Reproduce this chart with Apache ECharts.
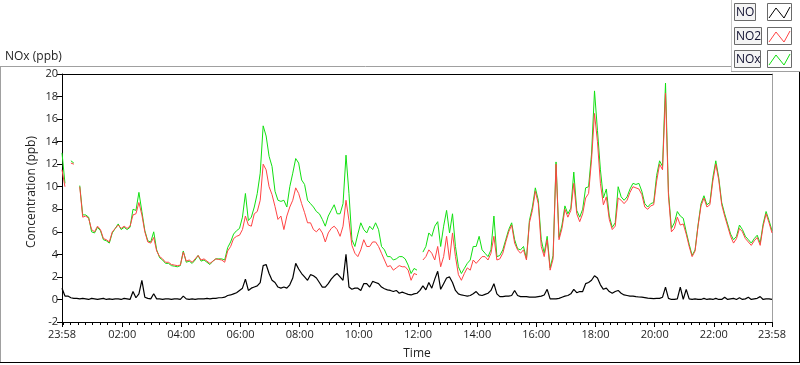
<!DOCTYPE html>
<html><head><meta charset="utf-8">
<script src="https://cdn.jsdelivr.net/npm/echarts@6/dist/echarts.min.js"></script>
<style>html,body{margin:0;padding:0;background:#fff}#c{width:800px;height:365px}</style>
</head><body><div id="c"></div>
<script>
// time axis in minutes relative to midnight; samples every 6 minutes from 23:58
const START_MIN = -2;
const STEP_MIN = 6;
const seriesNames = ['NO', 'NO2', 'NOx'];
const xTickMinutes = [-2, 120, 240, 360, 480, 600, 720, 840, 960, 1080, 1200, 1320, 1438];
const xTickLabels = ['23:58', '02:00', '04:00', '06:00', '08:00', '10:00', '12:00', '14:00', '16:00', '18:00', '20:00', '22:00', '23:58'];
const minorTickMinutes = [];
for (let m = 0; m < 1438; m += 15) minorTickMinutes.push(m);

const NO = [
 1.0,0.3,0.3,0.15,0.1,0.1,0.05,0.1,0.05,0.0,
 0.1,0.05,0.0,0.05,0.1,0.0,0.05,0.0,0.05,0.05,
 0.0,0.1,0.05,0.0,0.7,0.15,0.5,1.7,0.2,0.1,
 0.05,0.5,0.05,0.05,0.0,0.05,0.05,0.0,0.05,0.05,
 0.0,0.3,0.05,0.0,0.05,0.0,0.05,0.05,0.05,0.1,
 0.05,0.1,0.1,0.15,0.15,0.2,0.35,0.4,0.5,0.6,
 0.8,1.0,1.8,0.8,1.0,1.1,1.2,1.5,3.0,3.1,
 2.3,1.7,1.5,1.1,1.0,1.1,1.0,1.3,1.9,3.2,
 2.7,2.3,2.0,1.7,2.2,2.1,1.9,1.5,1.1,1.1,
 1.4,1.8,2.1,2.3,2.0,1.7,4.0,1.1,0.9,1.0,
 1.0,0.8,1.4,1.4,1.1,1.6,1.5,1.4,1.1,0.95,
 0.85,0.8,0.7,0.8,0.55,0.65,0.55,0.45,0.4,0.5,
 0.55,0.8,1.2,0.85,1.5,1.0,1.8,2.5,0.9,1.4,
 1.9,2.0,1.5,0.8,0.5,0.4,0.35,0.3,0.35,0.5,
 0.7,0.4,0.35,0.45,0.55,0.8,1.4,0.5,0.25,0.25,
 0.3,0.3,0.35,0.8,0.35,0.25,0.25,0.25,0.2,0.2,
 0.2,0.25,0.3,0.4,0.9,0.05,0.05,0.05,0.1,0.2,
 0.3,0.35,0.5,0.9,0.6,0.7,0.7,1.4,1.5,1.7,
 2.1,1.9,1.3,0.9,1.0,0.7,0.55,0.7,0.8,0.55,
 0.4,0.35,0.3,0.3,0.25,0.22,0.2,0.17,0.12,0.1,
 0.08,0.1,0.1,0.2,1.1,0.1,0.0,0.0,0.05,1.1,
 0.0,0.9,0.05,0.0,0.05,0.0,0.0,0.1,0.0,0.05,
 0.0,0.1,0.0,0.0,0.2,0.0,0.05,0.1,0.0,0.15,
 0.0,0.05,0.2,0.0,0.05,0.1,0.25,0.0,0.05,0.05,
 0.0
];

const NO2 = [
 11.5,10.0,null,12.1,12.0,null,10.0,7.3,7.4,7.2,
 6.2,6.0,6.5,6.2,5.4,5.3,5.1,6.0,6.3,6.6,
 6.3,6.5,6.3,6.5,7.5,7.6,8.6,7.5,6.0,5.1,
 5.0,5.5,4.3,3.8,3.6,3.3,3.3,3.1,3.05,3.0,
 3.05,4.2,3.4,3.5,3.3,3.6,3.9,3.5,3.6,3.4,
 3.2,3.4,3.6,3.55,3.5,3.3,4.3,4.7,5.4,5.6,
 5.7,6.2,7.4,6.6,6.5,7.6,7.8,8.8,12.0,11.5,
 10.0,9.3,8.25,7.1,7.4,6.2,7.4,8.2,8.8,9.9,
 9.4,8.5,7.7,6.8,6.8,6.2,6.0,6.3,5.9,5.1,
 5.9,6.3,6.5,6.2,5.6,6.5,8.8,7.0,4.8,4.1,
 3.8,4.4,5.3,4.7,4.7,5.1,5.1,4.7,4.1,3.5,
 2.9,3.0,2.6,2.8,3.0,2.9,2.9,2.6,1.7,2.3,
 2.2,null,3.5,3.8,4.4,4.1,3.5,4.7,2.9,3.8,
 5.6,3.5,5.9,3.8,2.2,1.7,2.3,2.8,2.6,3.5,
 3.2,3.5,3.8,3.8,3.5,4.1,5.6,3.5,3.6,4.1,
 5.1,6.0,6.6,5.0,4.4,4.1,4.4,3.5,6.8,7.9,
 9.6,8.5,4.7,3.8,5.3,2.6,3.6,12.0,5.3,6.3,
 8.0,7.3,7.9,10.3,7.6,6.9,7.6,9.0,9.4,12.4,
 16.5,14.0,10.3,8.4,9.1,7.1,6.2,6.5,9.0,8.8,
 8.5,8.8,9.5,10.0,9.9,9.8,9.3,8.2,8.0,8.3,
 8.4,10.5,12.0,11.5,18.3,9.2,6.0,6.3,7.3,6.6,
 6.7,5.8,4.7,3.8,4.3,6.5,8.3,9.0,8.2,8.4,
 10.5,12.0,10.6,8.4,7.4,6.5,5.6,5.0,5.4,6.3,
 6.0,5.4,5.1,4.8,5.2,5.5,4.8,6.5,7.6,6.8,
 5.9
];

const NOx = [
 13.0,10.3,null,12.3,12.1,null,10.1,7.5,7.5,7.3,
 6.0,5.9,6.4,6.1,5.3,5.2,5.0,5.9,6.3,6.7,
 6.2,6.4,6.2,6.4,8.0,7.9,9.5,7.8,6.1,5.2,
 5.1,6.0,4.4,3.7,3.5,3.2,3.2,3.0,2.95,2.9,
 3.0,4.3,3.3,3.4,3.2,3.5,3.9,3.4,3.5,3.3,
 3.1,3.4,3.6,3.6,3.6,3.5,4.6,5.1,5.8,6.1,
 6.3,7.3,9.4,7.0,7.3,8.2,9.4,11.2,15.4,14.5,
 12.7,11.8,9.6,8.8,8.7,8.8,8.2,10.0,11.2,12.5,
 12.1,10.6,10.2,8.8,8.5,8.2,7.8,7.6,7.1,6.5,
 7.4,7.9,8.4,7.6,7.6,8.5,12.8,9.4,5.3,4.7,
 5.8,6.8,6.2,5.9,6.5,6.2,6.8,6.2,4.7,4.4,
 3.8,3.8,3.5,3.6,3.8,3.8,3.6,3.05,2.3,2.75,
 2.6,null,4.2,4.7,5.9,5.6,6.5,6.9,4.7,6.5,
 7.9,5.9,7.6,4.7,2.9,2.3,2.75,3.2,3.5,4.7,
 4.7,5.6,4.4,4.1,3.8,4.4,7.4,3.8,3.9,4.4,
 5.3,6.2,6.8,5.3,4.5,4.4,4.7,3.6,7.0,8.2,
 9.9,8.8,5.3,4.1,5.6,2.8,3.9,12.2,5.5,6.6,
 8.3,7.6,8.1,11.3,7.9,7.3,8.0,9.9,10.0,12.9,
 18.5,15.0,11.5,9.0,9.8,7.4,6.4,6.8,10.0,9.1,
 8.8,9.1,9.8,10.3,10.2,10.3,9.6,8.5,8.2,8.5,
 8.6,11.0,12.3,11.8,19.2,9.5,6.3,6.8,7.8,7.4,
 7.2,6.0,4.9,3.9,4.4,6.6,8.5,9.2,8.4,8.6,
 10.8,12.3,10.8,8.6,7.6,6.7,5.8,5.3,5.6,6.6,
 6.2,5.6,5.3,5.0,5.4,5.7,5.0,6.7,7.8,7.0,
 6.1
];

const FONT = '"Open Sans", "Liberation Sans", sans-serif';
const TXT = '#1e1e1e';
const toPairs = arr => arr.map((v, i) => [START_MIN + STEP_MIN * i, v]);

const chart = echarts.init(document.getElementById('c'), null, {renderer: 'canvas'});

// legend boxes (decoration)
const legendColors = ['#000000', '#ff4444', '#11e011'];
const legendGraphics = [];
const legendTop = [3, 27, 50];
const labelW = [21, 27, 26];
seriesNames.forEach((n, k) => {
  const y = legendTop[k];
  legendGraphics.push({type: 'rect', shape: {x: 734.5, y: y + 0.5, width: labelW[k], height: 17},
    style: {fill: '#f4f4f4', stroke: '#6a6a6a', lineWidth: 1}, silent: true});
  legendGraphics.push({type: 'text', x: 736, y: y + 9.5,
    style: {text: n, font: '12px ' + FONT, fill: '#101030', textVerticalAlign: 'middle', textAlign: 'left'}, silent: true});
  legendGraphics.push({type: 'rect', shape: {x: 767.5, y: y + 0.5, width: 24, height: 17},
    style: {fill: '#ffffff', stroke: '#6a6a6a', lineWidth: 1}, silent: true});
  legendGraphics.push({type: 'polyline', shape: {points: [[769, y + 15], [776, y + 5], [784, y + 15], [790, y + 4]]},
    style: {stroke: legendColors[k], lineWidth: 1, fill: null}, silent: true});
});

const frameGraphics = [
  {type: 'line', shape: {x1: 0, y1: 66.5, x2: 731, y2: 66.5}, style: {stroke: '#a0a0a0', lineWidth: 1}, silent: true},
  {type: 'line', shape: {x1: 731.5, y1: 0, x2: 731.5, y2: 72}, style: {stroke: '#c8c8c8', lineWidth: 1}, silent: true},
  {type: 'line', shape: {x1: 731, y1: 71.5, x2: 800, y2: 71.5}, style: {stroke: '#a0a0a0', lineWidth: 1}, silent: true},
  {type: 'line', shape: {x1: 0.5, y1: 66, x2: 0.5, y2: 363}, style: {stroke: '#a0a0a0', lineWidth: 1}, silent: true},
  {type: 'line', shape: {x1: 0, y1: 362.5, x2: 800, y2: 362.5}, style: {stroke: '#000', lineWidth: 1}, silent: true},
  {type: 'line', shape: {x1: 799.5, y1: 72, x2: 799.5, y2: 363}, style: {stroke: '#000', lineWidth: 1}, silent: true},
  {type: 'text', x: 5, y: 57, style: {text: 'NOx (ppb)', font: '12px ' + FONT, fill: TXT, textVerticalAlign: 'middle'}, silent: true},
  {type: 'text', x: 32, y: 192, rotation: Math.PI / 2,
    style: {text: 'Concentration (ppb)', font: '12px ' + FONT, fill: TXT, textAlign: 'center', textVerticalAlign: 'middle'}, silent: true}
];

const option = {
  animation: false,
  backgroundColor: '#ffffff',
  grid: {left: 62, right: 28, top: 74, bottom: 43, containLabel: false},
  xAxis: [
    {type: 'value', min: -2, max: 1438, position: 'bottom',
      axisLine: {onZero: false, lineStyle: {color: '#000', width: 1}},
      axisTick: {show: true, length: 5, customValues: xTickMinutes, lineStyle: {color: '#000'}},
      axisLabel: {customValues: xTickMinutes, margin: 7, fontFamily: FONT, fontSize: 11, color: TXT,
        formatter: v => { const k = xTickMinutes.indexOf(v); return k >= 0 ? xTickLabels[k] : ''; }},
      splitLine: {show: false},
      name: 'Time', nameLocation: 'middle', nameGap: 26,
      nameTextStyle: {fontFamily: FONT, fontSize: 12, color: TXT}},
    {type: 'value', min: -2, max: 1438, position: 'bottom',
      axisLine: {show: false, onZero: false},
      axisTick: {show: true, length: 3, customValues: minorTickMinutes, lineStyle: {color: '#000'}},
      axisLabel: {show: false}, splitLine: {show: false}},
    {type: 'value', min: -2, max: 1438, position: 'top',
      axisLine: {show: true, onZero: false, lineStyle: {color: '#000'}},
      axisTick: {show: false}, axisLabel: {show: false}, splitLine: {show: false}}
  ],
  yAxis: [
    {type: 'value', min: -2, max: 20, interval: 2, position: 'left',
      axisLine: {show: true, onZero: false, lineStyle: {color: '#000'}},
      axisTick: {show: true, length: 5, lineStyle: {color: '#000'}},
      axisLabel: {margin: 4, fontFamily: FONT, fontSize: 11, color: TXT},
      splitLine: {show: false}},
    {type: 'value', min: -2, max: 20, interval: 2, position: 'right',
      axisLine: {show: true, onZero: false, lineStyle: {color: '#a0a0a0'}},
      axisTick: {show: false}, axisLabel: {show: false}, splitLine: {show: false}}
  ],
  series: [
    {name: 'NOx', type: 'line', data: toPairs(NOx), showSymbol: false, symbol: 'none', connectNulls: false,
      lineStyle: {color: legendColors[2], width: 1}, z: 2},
    {name: 'NO2', type: 'line', data: toPairs(NO2), showSymbol: false, symbol: 'none', connectNulls: false,
      lineStyle: {color: legendColors[1], width: 1}, z: 3},
    {name: 'NO', type: 'line', data: toPairs(NO), showSymbol: false, symbol: 'none', connectNulls: false,
      lineStyle: {color: legendColors[0], width: 1.2}, z: 4}
  ],
  graphic: frameGraphics.concat(legendGraphics)
};
chart.setOption(option);
</script>
</body></html>
